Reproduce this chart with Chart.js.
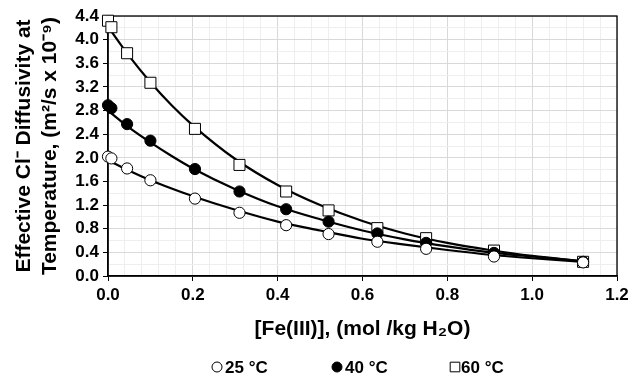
<!DOCTYPE html>
<html>
<head>
<meta charset="utf-8">
<script src="https://cdn.jsdelivr.net/npm/chart.js@4.4.0/dist/chart.umd.min.js"></script>
<style>
  html, body { margin: 0; padding: 0; background: #fff; }
  #wrap { width: 644px; height: 379px; }
</style>
</head>
<body>
<div id="wrap"><canvas id="chart" width="644" height="379"></canvas></div>
<script>
// measured points
const feConc = [0, 0.008, 0.045, 0.1, 0.205, 0.31, 0.42, 0.52, 0.635, 0.75, 0.91, 1.12];
const d25 = [2.02, 1.99, 1.82, 1.62, 1.31, 1.07, 0.86, 0.71, 0.58, 0.46, 0.33, 0.23];
const d40 = [2.89, 2.84, 2.57, 2.29, 1.81, 1.43, 1.13, 0.92, 0.72, 0.56, 0.39, 0.24];
const d60 = [4.32, 4.21, 3.77, 3.27, 2.49, 1.88, 1.43, 1.11, 0.81, 0.64, 0.43, 0.24];

// trend lines
const fitX = [0, 0.05, 0.1, 0.15, 0.2, 0.3, 0.4, 0.5, 0.6, 0.7, 0.8, 0.9, 1.0, 1.12];
const fit25 = [1.96, 1.78, 1.62, 1.48, 1.35, 1.12, 0.92, 0.77, 0.63, 0.53, 0.44, 0.36, 0.30, 0.24];
const fit40 = [2.80, 2.51, 2.26, 2.03, 1.82, 1.47, 1.18, 0.96, 0.77, 0.62, 0.50, 0.40, 0.33, 0.25];
const fit60 = [4.22, 3.72, 3.28, 2.89, 2.55, 1.98, 1.54, 1.20, 0.93, 0.72, 0.56, 0.44, 0.34, 0.25];

const seriesLabels = ['25 °C', '40 °C', '60 °C'];
const xTitle = '[Fe(III)], (mol /kg H₂O)';
const yTitle = ['Effective Cl⁻ Diffusivity at', 'Temperature, (m²/s x 10⁻⁹)'];

const FONT = '"Liberation Sans", Arial, sans-serif';

const pts = (xs, ys) => xs.map((x, i) => ({ x: x, y: ys[i] }));

function pointSet(label, ys, style, fill) {
  const r = style === 'rect' ? 7.8 : 5.6;
  return {
    label: label,
    data: pts(feConc, ys),
    showLine: false,
    pointStyle: style,
    pointRadius: r,
    pointHoverRadius: r,
    pointBackgroundColor: fill,
    pointBorderColor: '#000',
    pointBorderWidth: 1,
    clip: false,
    order: 1
  };
}

function fitSet(ys) {
  return {
    label: '',
    data: pts(fitX, ys),
    showLine: true,
    borderColor: '#000',
    borderWidth: 2.2,
    pointRadius: 0,
    cubicInterpolationMode: 'monotone',
    order: 2
  };
}

const frame = {
  id: 'frame',
  beforeDatasetsDraw(chart) {
    const { ctx, chartArea: a } = chart;
    ctx.save();
    ctx.strokeStyle = '#000';
    ctx.lineWidth = 1.3;
    ctx.strokeRect(a.left, a.top, a.right - a.left, a.bottom - a.top);
    ctx.restore();
  }
};

const legendRow = {
  id: 'legendRow',
  afterDraw(chart) {
    const ctx = chart.ctx;
    const items = [
      { ds: 0, mx: 217, tx: 225 },
      { ds: 1, mx: 337, tx: 345 },
      { ds: 2, mx: 455, tx: 461 }
    ];
    const y = 367;
    ctx.save();
    items.forEach(it => {
      const ds = chart.data.datasets[it.ds];
      ctx.fillStyle = ds.pointBackgroundColor;
      ctx.strokeStyle = '#000';
      ctx.lineWidth = 1;
      Chart.helpers.drawPoint(ctx, {
        pointStyle: ds.pointStyle,
        radius: ds.pointStyle === 'rect' ? 6.8 : 5,
        borderWidth: 1,
        rotation: 0
      }, it.mx, y);
      ctx.fillStyle = '#000';
      ctx.font = 'bold 17px ' + FONT;
      ctx.textBaseline = 'middle';
      ctx.textAlign = 'left';
      ctx.fillText(ds.label, it.tx, y + 1);
    });
    ctx.restore();
  }
};

new Chart(document.getElementById('chart'), {
  type: 'scatter',
  data: {
    datasets: [
      pointSet(seriesLabels[0], d25, 'circle', '#fff'),
      pointSet(seriesLabels[1], d40, 'circle', '#000'),
      pointSet(seriesLabels[2], d60, 'rect', '#fff'),
      fitSet(fit25),
      fitSet(fit40),
      fitSet(fit60)
    ]
  },
  options: {
    responsive: false,
    animation: false,
    devicePixelRatio: 1,
    layout: { padding: { top: 16, right: 27, left: 0, bottom: 0 } },
    plugins: {
      legend: { display: false },
      tooltip: { enabled: false }
    },
    scales: {
      x: {
        type: 'linear',
        min: 0,
        max: 1.2,
        afterFit: s => { s.height = 103; },
        border: { color: '#000', width: 1.5 },
        grid: {
          color: c => Math.round(c.tick.value * 100) % 20 === 0 ? '#d9d9d9' : '#eeeeee',
          tickColor: c => Math.round(c.tick.value * 100) % 20 === 0 ? '#000' : 'rgba(0,0,0,0)',
          tickLength: 5
        },
        ticks: {
          stepSize: 0.04,
          autoSkip: false,
          maxRotation: 0,
          padding: 4,
          color: '#000',
          font: { family: FONT, size: 17, weight: 'bold' },
          callback: v => Math.round(v * 100) % 20 === 0 ? v.toFixed(1) : ''
        },
        title: {
          display: true,
          text: xTitle,
          color: '#000',
          font: { family: FONT, size: 21, weight: 'bold', lineHeight: 1.2 },
          padding: { top: 0, bottom: 37 }
        }
      },
      y: {
        type: 'linear',
        min: 0,
        max: 4.4,
        afterFit: s => { s.width = 108; },
        border: { color: '#000', width: 1.5 },
        grid: {
          color: c => Math.round(c.tick.value * 10) % 4 === 0 ? '#d9d9d9' : '#eeeeee',
          tickColor: c => Math.round(c.tick.value * 10) % 4 === 0 ? '#000' : 'rgba(0,0,0,0)',
          tickLength: 5
        },
        ticks: {
          stepSize: 0.2,
          autoSkip: false,
          padding: 4,
          color: '#000',
          font: { family: FONT, size: 17, weight: 'bold' },
          callback: v => Math.round(v * 10) % 4 === 0 ? v.toFixed(1) : ''
        },
        title: {
          display: true,
          text: yTitle,
          color: '#000',
          font: { family: FONT, size: 21, weight: 'bold', lineHeight: 1.2 },
          padding: { top: 12, bottom: 0 }
        }
      }
    }
  },
  plugins: [frame, legendRow]
});
</script>
</body>
</html>
